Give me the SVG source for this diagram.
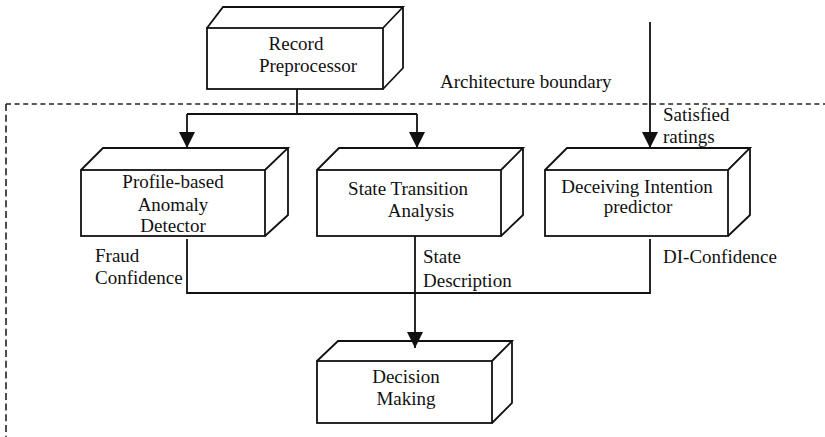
<svg xmlns="http://www.w3.org/2000/svg" width="825" height="437" viewBox="0 0 825 437">
  <style>
    .box { fill: #fff; stroke: #111; stroke-width: 1.8; stroke-linejoin: miter; }
    .face { fill: none; stroke: #111; stroke-width: 1.8; stroke-linejoin: miter; }
    .lbl { font-family: "Liberation Serif", "Times New Roman", serif; font-size: 19px; fill: #111; }
    .mid { text-anchor: middle; }
    .wire { fill: none; stroke: #111; stroke-width: 1.8; }
    .bound { fill: none; stroke: #222; stroke-width: 1.6; }
  </style>
  <defs>
    <marker id="arrow" markerUnits="userSpaceOnUse" markerWidth="16" markerHeight="16" refX="16" refY="8" orient="auto">
      <path d="M0,0 L16,8 L0,16 z" fill="#111"/>
    </marker>
  </defs>

  <rect width="825" height="437" fill="#fff"/>

  <!-- architecture boundary -->
  <g id="boundary">
    <line class="bound" x1="6" y1="104" x2="825" y2="104" stroke-dasharray="5 3.6"/>
    <line class="bound" x1="6" y1="104" x2="6" y2="437" stroke-dasharray="7 3.7"/>
    <text class="lbl" x="440" y="88">Architecture boundary</text>
  </g>

  <!-- connectors -->
  <g id="connectors">
    <path class="wire" d="M297,89 V114"/>
    <path class="wire" d="M187,114 H417"/>
    <path class="wire" d="M187,114 V148" marker-end="url(#arrow)"/>
    <path class="wire" d="M417,114 V148" marker-end="url(#arrow)"/>
    <path class="wire" d="M650,22 V148" marker-end="url(#arrow)"/>
    <path class="wire" d="M187,239 V293 H650 V239"/>
    <path class="wire" d="M415,236 V348" marker-end="url(#arrow)"/>
    <text class="lbl" x="663" y="121">Satisfied</text>
    <text class="lbl" x="663" y="143">ratings</text>
    <text class="lbl" x="95" y="262">Fraud</text>
    <text class="lbl" x="95" y="284">Confidence</text>
    <text class="lbl" x="423" y="263">State</text>
    <text class="lbl" x="423" y="287">Description</text>
    <text class="lbl" x="663" y="263">DI-Confidence</text>
  </g>

  <!-- Record Preprocessor -->
  <g id="record-preprocessor">
    <rect class="box" x="207" y="28" width="176" height="61"/>
    <path class="face" d="M207,28 L223,7 H403 L383,28 M403,7 V68 L383,89"/>
    <text class="lbl mid" x="296" y="50">Record</text>
    <text class="lbl mid" x="308" y="72">Preprocessor</text>
  </g>

  <!-- Profile-based Anomaly Detector -->
  <g id="anomaly-detector">
    <rect class="box" x="81" y="170" width="184" height="66"/>
    <path class="face" d="M81,170 L103,148 H288 L265,170 M288,148 V215 L265,236"/>
    <text class="lbl mid" x="173" y="188">Profile-based</text>
    <text class="lbl mid" x="173" y="211">Anomaly</text>
    <text class="lbl mid" x="173" y="232">Detector</text>
  </g>

  <!-- State Transition Analysis -->
  <g id="state-transition">
    <rect class="box" x="317" y="170" width="184" height="66"/>
    <path class="face" d="M317,170 L339,148 H523 L501,170 M523,148 V215 L501,236"/>
    <text class="lbl mid" x="408" y="195">State Transition</text>
    <text class="lbl mid" x="421" y="217">Analysis</text>
  </g>

  <!-- Deceiving Intention predictor -->
  <g id="deceiving-intention">
    <rect class="box" x="545" y="170" width="183" height="66"/>
    <path class="face" d="M545,170 L567,148 H750 L728,170 M750,148 V215 L728,236"/>
    <text class="lbl mid" x="637" y="193">Deceiving Intention</text>
    <text class="lbl mid" x="638" y="213">predictor</text>
  </g>

  <!-- Decision Making -->
  <g id="decision-making">
    <rect class="box" x="317" y="361" width="175" height="62"/>
    <path class="face" d="M317,361 L338,341 H512 L492,361 M512,341 V403 L492,423"/>
    <text class="lbl mid" x="406" y="383">Decision</text>
    <text class="lbl mid" x="406" y="405">Making</text>
  </g>
</svg>
